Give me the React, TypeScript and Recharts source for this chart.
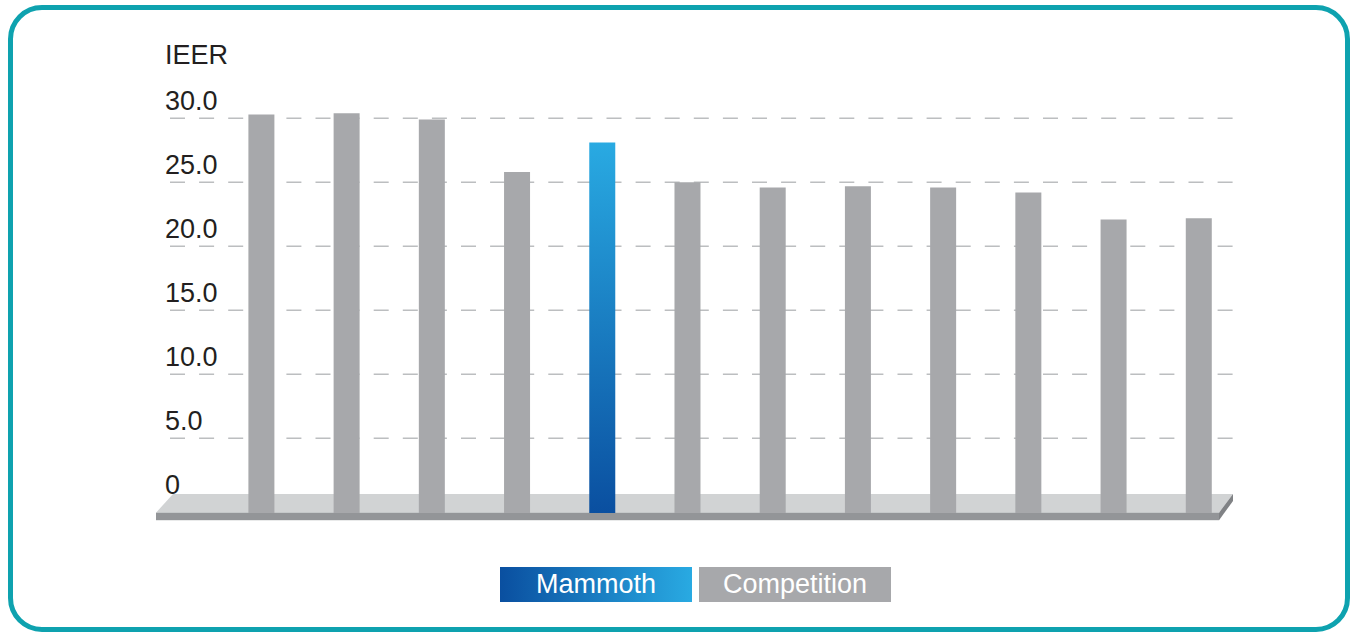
import { BarChart, Bar, XAxis, YAxis, CartesianGrid, Cell, ReferenceArea, Label } from 'recharts';

// values
const categories = ['A', 'B', 'C', 'D', 'Mammoth', 'E', 'F', 'G', 'H', 'I', 'J', 'K'];
const ieerValues = [30.3, 30.4, 29.9, 25.8, 28.1, 25.0, 24.6, 24.7, 24.6, 24.2, 22.1, 22.2];
const yTicks = [0, 5, 10, 15, 20, 25, 30];
const HIGHLIGHT = 'Mammoth';

// the bars stand on the platform slightly below the zero line
const FLOOR_VALUE = -0.84;

const data = categories.map((name, i) => ({ name, value: ieerValues[i] }));

const COLORS = {
  border: '#0EA2AF',
  grey: '#A7A8AB',
  grid: '#BCBEC0',
  text: '#231F20',
  floorTop: '#D1D3D4',
  floorFront: '#939598',
  floorSide: '#808285',
  blueDark: '#0A4FA0',
  blueLight: '#29AAE2',
};

const FONT = '"Liberation Sans", Arial, Helvetica, sans-serif';

// platform under the bars; x comes in at the first band edge
const Floor = (props: any) => {
  const { x, y, width, height } = props;
  const left = x - 48.4;
  const right = x + width;
  const bottom = y + height;
  const front = bottom - 7.5;
  return (
    <g>
      <polygon
        points={`${left + 3},${y} ${right - 8},${y} ${right - 22},${front} ${left - 14},${front}`}
        fill={COLORS.floorTop}
      />
      <rect x={left - 14} y={front} width={right - 22 - (left - 14)} height={7.5} fill={COLORS.floorFront} />
      <polygon
        points={`${right - 22},${front} ${right - 8},${y} ${right - 8},${y + 7} ${right - 22},${bottom}`}
        fill={COLORS.floorSide}
      />
    </g>
  );
};

const YTick = (props: any) => {
  const { y, payload } = props;
  const v = payload.value;
  return (
    <text x={165} y={y - 8} fill={COLORS.text} fontSize={27} fontFamily={FONT} textAnchor="start">
      {v === 0 ? '0' : v.toFixed(1)}
    </text>
  );
};

const LegendBox = ({ label, fill, left }: { label: string; fill: string; left: number }) => (
  <div
    style={{
      position: 'absolute',
      left,
      top: 567,
      width: 192,
      height: 35,
      background: fill,
      color: '#fff',
      fontFamily: FONT,
      fontSize: 27,
      lineHeight: '35px',
      textAlign: 'center',
    }}
  >
    {label}
  </div>
);

export default function App() {
  return (
    <div style={{ position: 'absolute', left: 0, top: 0, width: 1351, height: 633, background: '#fff' }}>
      <div
        style={{
          position: 'absolute',
          left: 8,
          top: 5,
          width: 1342,
          height: 627,
          border: `5px solid ${COLORS.border}`,
          borderRadius: 34,
          boxSizing: 'border-box',
        }}
      />
      <div style={{ position: 'absolute', left: 0, top: 0 }}>
        <BarChart
          width={1351}
          height={633}
          data={data}
          margin={{ top: 105.5, left: 130, right: 110, bottom: 112.8 }}
        >
          <defs>
            <linearGradient id="mammothBar" x1="0" y1="0" x2="0" y2="1">
              <stop offset="0%" stopColor={COLORS.blueLight} />
              <stop offset="100%" stopColor={COLORS.blueDark} />
            </linearGradient>
          </defs>
          <CartesianGrid
            vertical={false}
            horizontalValues={yTicks.filter((v) => v > 0)}
            stroke={COLORS.grid}
            strokeWidth={1.5}
            strokeDasharray="15 14.1"
          />
          <XAxis dataKey="name" hide padding={{ left: 48.4, right: 0 }} />
          <YAxis
            width={40}
            domain={[-1.4, 31]}
            ticks={yTicks}
            axisLine={false}
            tickLine={false}
            tick={(p: any) => <YTick {...p} />}
            interval={0}
          >
            <Label
              content={() => (
                <text x={165} y={64} fill={COLORS.text} fontSize={27} fontFamily={FONT}>
                  IEER
                </text>
              )}
            />
          </YAxis>
          <ReferenceArea y1={-1.4} y2={0.65} shape={(p: any) => <Floor {...p} />} ifOverflow="visible" />
          <Bar
            dataKey={(d: any) => [FLOOR_VALUE, d.value]}
            barSize={26}
            isAnimationActive={false}
          >
            {data.map((d) => (
              <Cell key={d.name} fill={d.name === HIGHLIGHT ? 'url(#mammothBar)' : COLORS.grey} />
            ))}
          </Bar>
        </BarChart>
      </div>
      <LegendBox
        label="Mammoth"
        left={500}
        fill={`linear-gradient(to right, ${COLORS.blueDark}, ${COLORS.blueLight})`}
      />
      <LegendBox label="Competition" left={699} fill={COLORS.grey} />
    </div>
  );
}
